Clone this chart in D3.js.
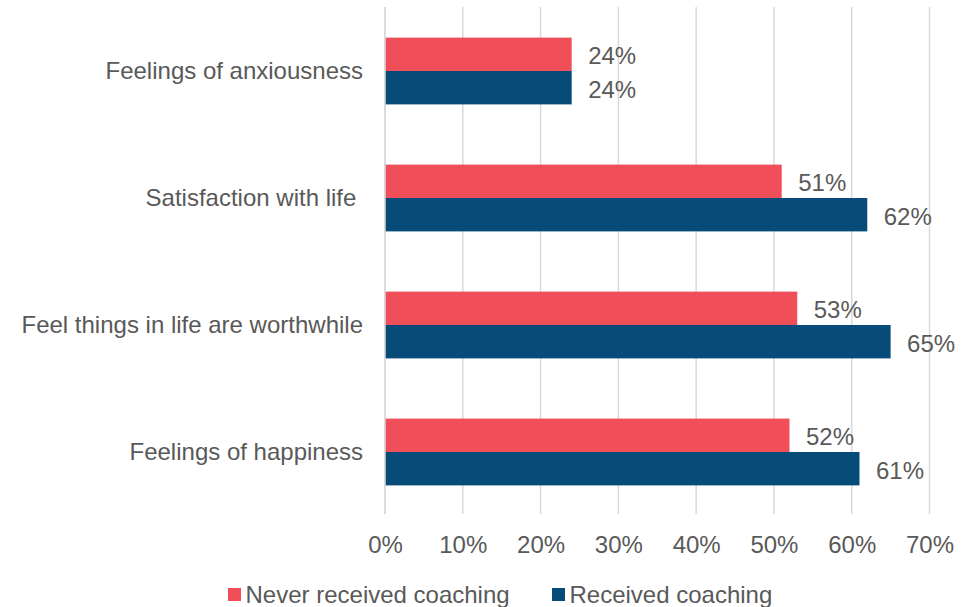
<!DOCTYPE html>
<html>
<head>
<meta charset="utf-8">
<script src="https://cdn.jsdelivr.net/npm/d3@7"></script>
<style>
  body { margin: 0; background: #fff; }
  text { font-family: "Liberation Sans", Arial, sans-serif; fill: #595959; }
</style>
</head>
<body>
<script>
// chart data
var categories = ["Feelings of anxiousness", "Satisfaction with life ", "Feel things in life are worthwhile", "Feelings of happiness"];
var seriesNames = ["Never received coaching", "Received coaching"];
var neverValues = [24, 51, 53, 52];
var receivedValues = [24, 62, 65, 61];
var tickValues = [0, 10, 20, 30, 40, 50, 60, 70];
var colors = ["#F04F5A", "#074B79"];

var width = 976, height = 607;
var fontSize = "24px";

var svg = d3.select("body").append("svg")
  .attr("width", width)
  .attr("height", height);

// scales
var x = d3.scaleLinear().domain([0, 70]).range([385, 929.5]);
var y = d3.scaleBand().domain(categories).range([7.5, 515.5]);
var ySub = d3.scaleBand().domain(seriesNames)
  .range([y.bandwidth() / 2 - 33.4, y.bandwidth() / 2 + 33.4]);

// gridlines
svg.append("g").selectAll("line")
  .data(tickValues)
  .enter().append("line")
  .attr("x1", function(d){ return x(d); })
  .attr("x2", function(d){ return x(d); })
  .attr("y1", 7)
  .attr("y2", 514)
  .attr("stroke", "#D9D9D9")
  .attr("stroke-width", 1.5);

// x axis tick labels
var xAxis = d3.axisBottom(x)
  .tickValues(tickValues)
  .tickSize(0)
  .tickPadding(0)
  .tickFormat(function(d){ return d + "%"; });

var gx = svg.append("g")
  .attr("transform", "translate(0,545)")
  .call(xAxis);
gx.select(".domain").remove();
gx.selectAll("text")
  .attr("dy", "0.35em")
  .attr("y", 0)
  .style("font-size", fontSize)
  .style("fill", "#595959")
  .style("font-family", "'Liberation Sans', Arial, sans-serif");

// bars
var rows = categories.map(function(c, i){
  return { cat: c, vals: [neverValues[i], receivedValues[i]] };
});

var groups = svg.append("g").selectAll("g")
  .data(rows)
  .enter().append("g")
  .attr("transform", function(d){ return "translate(0," + y(d.cat) + ")"; });

groups.selectAll("rect")
  .data(function(d){ return d.vals.map(function(v, j){ return { s: seriesNames[j], v: v, j: j }; }); })
  .enter().append("rect")
  .attr("x", x(0))
  .attr("y", function(d){ return ySub(d.s); })
  .attr("width", function(d){ return x(d.v) - x(0); })
  .attr("height", ySub.bandwidth())
  .attr("fill", function(d){ return colors[d.j]; });

groups.selectAll("text.val")
  .data(function(d){ return d.vals.map(function(v, j){ return { s: seriesNames[j], v: v }; }); })
  .enter().append("text")
  .attr("class", "val")
  .attr("x", function(d){ return x(d.v) + 16.5; })
  .attr("y", function(d){ return ySub(d.s) + ySub.bandwidth() / 2 + 1.5; })
  .attr("dy", "0.35em")
  .style("font-size", fontSize)
  .text(function(d){ return d.v + "%"; });

// category labels
svg.append("g").selectAll("text")
  .data(categories)
  .enter().append("text")
  .attr("x", 363)
  .attr("y", function(d){ return y(d) + y.bandwidth() / 2; })
  .attr("dy", "0.35em")
  .attr("text-anchor", "end")
  .style("font-size", fontSize)
  .style("white-space", "pre")
  .text(function(d){ return d; });

// axis line at 0
svg.append("line")
  .attr("x1", x(0)).attr("x2", x(0))
  .attr("y1", 7).attr("y2", 514)
  .attr("stroke", "#D9D9D9")
  .attr("stroke-width", 1.5);

// legend
var legendX = [228, 552];
var legend = svg.append("g").selectAll("g")
  .data(seriesNames)
  .enter().append("g")
  .attr("transform", function(d, i){ return "translate(" + legendX[i] + ",588)"; });

legend.append("rect")
  .attr("width", 13)
  .attr("height", 13)
  .attr("fill", function(d, i){ return colors[i]; });

legend.append("text")
  .attr("x", 17.5)
  .attr("y", 7)
  .attr("dy", "0.35em")
  .style("font-size", fontSize)
  .text(function(d){ return d; });
</script>
</body>
</html>
